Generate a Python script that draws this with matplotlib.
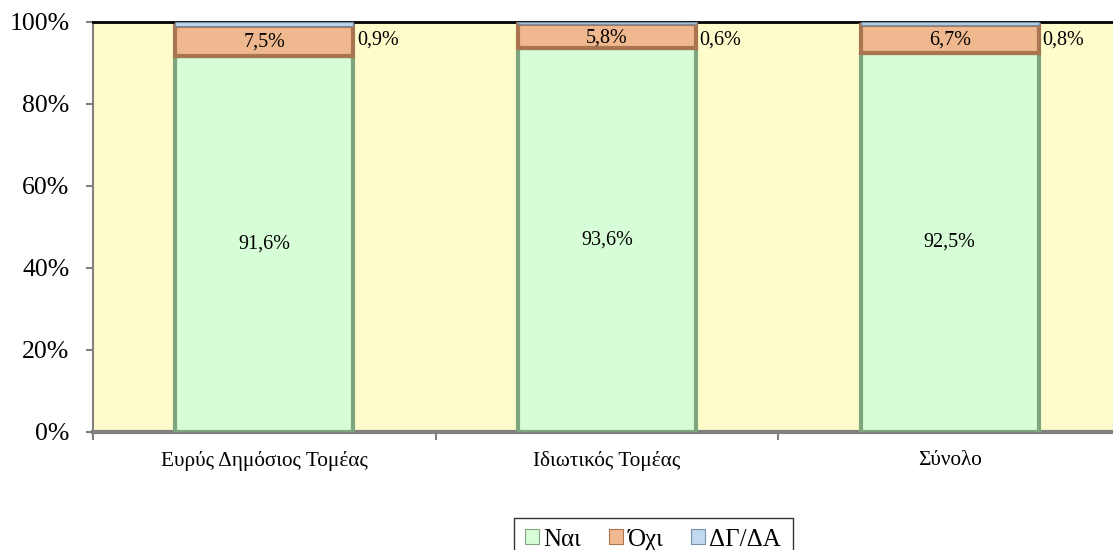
import matplotlib
matplotlib.use("Agg")
import matplotlib.pyplot as plt
import numpy as np

categories = ["Ευρύς Δημόσιος Τομέας", "Ιδιωτικός Τομέας", "Σύνολο"]
series_names = ["Ναι", "Όχι", "ΔΓ/ΔΑ"]
nai = [91.6, 93.6, 92.5]
ochi = [7.5, 5.8, 6.7]
dgda = [0.9, 0.6, 0.8]
yticks = [0, 20, 40, 60, 80, 100]

plt.rcParams['font.family'] = ['Liberation Serif', 'DejaVu Serif']

fig = plt.figure(figsize=(11.13, 5.5), dpi=100)
ax = fig.add_axes([93/1113, 1-432/550, 1028/1113, 410/550])
ax.set_facecolor('#fffccc')

x = np.arange(len(categories))
w = 0.52
fills = ['#d6fdd6', '#efb88e', '#c2daf0']
edges = ['#7fa57f', '#a87550', '#7890a8']

nai_a = np.array(nai); ochi_a = np.array(ochi); dg_a = np.array(dgda)
b1 = ax.bar(x, nai_a, w, color=fills[0], edgecolor=edges[0], linewidth=3, label=series_names[0], zorder=3)
b2 = ax.bar(x, ochi_a, w, bottom=nai_a, color=fills[1], edgecolor=edges[1], linewidth=3, label=series_names[1], zorder=3)
b3 = ax.bar(x, dg_a, w, bottom=nai_a+ochi_a, color=fills[2], edgecolor=edges[2], linewidth=1, label=series_names[2], zorder=3)

def fmt(v):
    return f"{v:.1f}%".replace('.', ',')

for i in range(len(categories)):
    ax.text(x[i], nai_a[i]/2, fmt(nai_a[i]), ha='center', va='center', fontsize=14.5, zorder=5)
    ax.text(x[i], nai_a[i] + ochi_a[i]/2 - 0.3, fmt(ochi_a[i]), ha='center', va='center', fontsize=14.5, zorder=5)
    ax.text(x[i] + w/2 + 0.01, 95.6, fmt(dg_a[i]), ha='left', va='center', fontsize=14.5, zorder=5)

ax.set_xlim(-0.5, 2.5)
ax.set_ylim(0, 100)
ax.set_yticks(yticks)
ax.set_yticklabels([f"{t}%" for t in yticks], fontsize=18.5)
ax.set_xticks(x)
ax.set_xticklabels(categories, fontsize=15.3)
ax.tick_params(axis='x', length=0, pad=14)
ax.set_xticks([-0.5, 0.5, 1.5, 2.5], minor=True)
ax.tick_params(axis='x', which='minor', length=6, color='#808080', width=1.5)
ax.tick_params(axis='y', length=5, color='#808080', width=1.5, pad=12)

ax.spines['top'].set_color('black')
ax.spines['top'].set_linewidth(2)
ax.spines['left'].set_color('#808080')
ax.spines['left'].set_linewidth(1.5)
ax.spines['bottom'].set_color('#808080')
ax.spines['bottom'].set_linewidth(3)
ax.spines['right'].set_visible(False)

leg = ax.legend(loc='upper center', bbox_to_anchor=(653/1113, 1-505/550), bbox_transform=fig.transFigure,
                ncol=3, fontsize=18, frameon=True, fancybox=False, edgecolor='black',
                handlelength=0.55, handleheight=0.55, handletextpad=0.2, columnspacing=1.1,
                borderpad=0.45)
leg.get_frame().set_linewidth(1)
for h in leg.legend_handles:
    h.set_linewidth(0.8)

fig.savefig("out.png", dpi=100)
